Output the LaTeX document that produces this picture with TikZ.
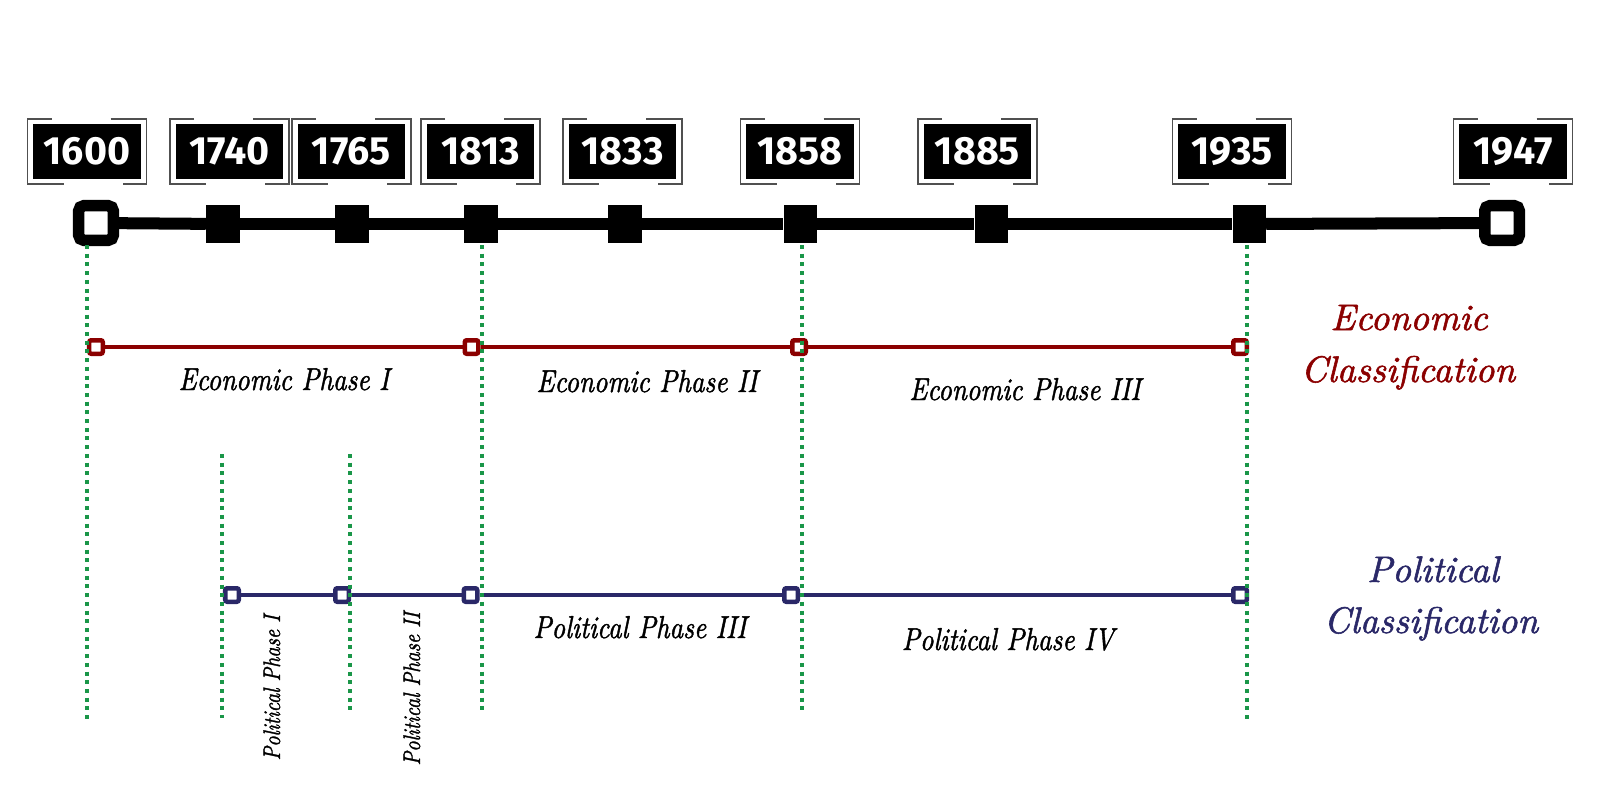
\documentclass[tikz,border=0pt]{standalone}
\usepackage{fontspec}
\usepackage{graphicx}
\newfontfamily\yearfont{Fira Sans}
\newfontfamily\calfont{lmroman10-italic.otf}[FakeBold=1.5]
\newcommand\narrowtxt[1]{\scalebox{0.84}[1]{#1}}
\usetikzlibrary{calc}
\definecolor{ecored}{RGB}{139,0,0}
\definecolor{polblue}{RGB}{42,40,104}
\definecolor{dotgreen}{RGB}{26,150,72}
\definecolor{framegray}{RGB}{80,80,80}
\begin{document}
\begin{tikzpicture}[x=0.01cm,y=-0.01cm,
  yearbox/.style={fill=black, text=white, font=\yearfont\bfseries\fontsize{11.2}{12}\selectfont, minimum width=1.07cm, minimum height=0.55cm, inner sep=0pt},
  yframe/.style={draw=framegray, line width=0.5pt},
  tlmark/.style={fill=black, minimum width=0.33cm, minimum height=0.37cm, inner sep=0pt},
  tlend/.style={draw=black, fill=white, line width=0.115cm, rounded corners=0.05cm, minimum size=0.345cm, inner sep=0pt},
  tlline/.style={draw=black, line width=0.12cm},
  phmark/.style={draw=#1, fill=white, line width=0.045cm, rounded corners=0.02cm, minimum size=0.135cm, inner sep=0pt},
  phline/.style={draw=#1, line width=0.04cm},
  guide/.style={draw=dotgreen, line width=0.04cm, dash pattern=on 0.04cm off 0.047cm},
  phtext/.style={font=\calfont\fontsize{9}{10}\selectfont, anchor=base, inner sep=0pt},
  smalltext/.style={font=\calfont\fontsize{6.8}{7}\selectfont, rotate=90, anchor=base west, inner sep=0pt},
  titletext/.style={font=\calfont\fontsize{10.5}{12}\selectfont, anchor=base, inner sep=0pt}]
\useasboundingbox (0,0) rectangle (1600,800);
\fill[white] (0,0) rectangle (1600,800);

% year labels
\foreach \yr/\x in {1600/87, 1740/229.5, 1765/351.5, 1813/480.5, 1833/622.5, 1858/800, 1885/977.5, 1935/1232, 1947/1513}{
  \node[yearbox] (y\yr) at (\x,151.5) {\yr};
  \draw[yframe] ([shift={(-35.5,-32.5)}]y\yr.center) -- ++(-24,0) -- ++(0,65) -- ++(36,0);
  \draw[yframe] ([shift={(23.5,-32.5)}]y\yr.center) -- ++(36,0) -- ++(0,65) -- ++(-24,0);
}

% timeline markers
\node[tlend] (m1600) at (96,223) {};
\foreach \yr/\x in {1740/223, 1765/352, 1813/481, 1833/625, 1858/800, 1885/991, 1935/1249}{
  \node[tlmark] (m\yr) at (\x,224) {};
}
\node[tlend] (m1947) at (1502,223) {};
\draw[tlline] (m1600) -- (m1740);
\draw[tlline] (m1740) -- (m1765);
\draw[tlline] (m1765) -- (m1813);
\draw[tlline] (m1813) -- (m1833);
\draw[tlline] (m1833) -- (m1858);
\draw[tlline] (m1858) -- (m1885);
\draw[tlline] (m1885) -- (m1935);
\draw[tlline] (m1935) -- (m1947);

% economic classification
\node[phmark=ecored] (e1) at (96,347) {};
\node[phmark=ecored] (e2) at (471.5,347) {};
\node[phmark=ecored] (e3) at (799,347) {};
\node[phmark=ecored] (e4) at (1240,347) {};
\draw[phline=ecored] (e1) -- (e2);
\draw[phline=ecored] (e2) -- (e3);
\draw[phline=ecored] (e3) -- (e4);

% political classification
\node[phmark=polblue] (p1) at (232,595) {};
\node[phmark=polblue] (p2) at (342,595) {};
\node[phmark=polblue] (p3) at (470.5,595) {};
\node[phmark=polblue] (p4) at (791,595) {};
\node[phmark=polblue] (p5) at (1240,595) {};
\draw[phline=polblue] (p1) -- (p2);
\draw[phline=polblue] (p2) -- (p3);
\draw[phline=polblue] (p3) -- (p4);
\draw[phline=polblue] (p4) -- (p5);

% guides
\coordinate (g1t) at (87,245);   \coordinate (g1b) at (87,720);
\coordinate (g2t) at (482,245);  \coordinate (g2b) at (482,713);
\coordinate (g3t) at (802,245);  \coordinate (g3b) at (802,713);
\coordinate (g4t) at (1247,245); \coordinate (g4b) at (1247,720);
\coordinate (g5t) at (222,454);  \coordinate (g5b) at (222,718);
\coordinate (g6t) at (350,454);  \coordinate (g6b) at (350,713);
\foreach \i in {1,...,6}{ \draw[guide] (g\i t) -- (g\i b); }

% labels
\node[phtext] (ep1) at (284,390) {\narrowtxt{Economic Phase I}};
\node[phtext] (ep2) at (647,392) {\narrowtxt{Economic Phase II}};
\node[phtext] (ep3) at (1025,400) {\narrowtxt{Economic Phase III}};
\node[phtext] (pp3) at (640,638) {\narrowtxt{Political Phase III}};
\node[phtext] (pp4) at (1008,650) {\narrowtxt{Political Phase IV}};
\node[smalltext] (pp1) at (280,761) {\narrowtxt{Political Phase I}};
\node[smalltext] (pp2) at (420,766) {\narrowtxt{Political Phase II}};

\node[titletext, text=ecored] (et1) at (1409,330) {Economic};
\node[titletext, text=ecored] (et2) at (1408,382) {Classification};
\node[titletext, text=polblue] (pt1) at (1433,582) {Political};
\node[titletext, text=polblue] (pt2) at (1431,633) {Classification};
\end{tikzpicture}
\end{document}
